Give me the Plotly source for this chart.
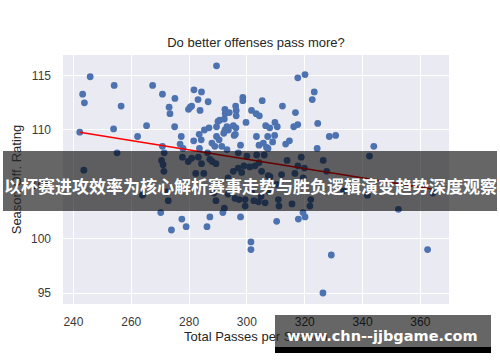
import plotly.graph_objects as go

# Total passes per season (x) and season offensive rating (y)
passes = [
    245.8, 243.2, 243.8, 242.2, 254.1, 256.5, 253.9, 262.2, 265.3, 267.4,
    270.8, 273.1, 273.4, 275.0, 275.1, 277.3, 276.9, 277.9, 270.8, 279.8,
    280.4, 280.9, 281.7, 283.1, 284.3, 283.8, 286.6, 281.6, 283.5, 284.2,
    285.3, 286.9, 283.6, 287.9, 288.9, 291.3, 293.1, 289.5, 290.0, 290.6,
    292.4, 292.5, 293.9, 292.2, 293.1, 292.4, 292.0, 293.6, 289.5, 296.1,
    296.3, 296.3, 295.3, 296.2, 295.6, 296.0, 297.8, 298.6, 298.6, 299.7,
    301.6, 303.2, 304.3, 305.3, 303.3, 304.2, 305.7, 306.8, 307.3, 306.5,
    307.9, 307.2, 308.9, 309.6, 309.7, 310.5, 312.3, 313.4, 314.7, 316.8,
    316.2, 317.6, 317.6, 320.1, 322.6, 323.3, 324.5, 324.3, 328.5, 330.7,
    343.9, 289.5, 290.4,
    255.1, 243.6, 263.9, 270.5, 271.0, 271.3, 271.4, 272.2, 272.8, 277.7,
    279.7, 280.9, 283.2, 284.3, 286.4, 287.2, 288.0, 289.3, 297.0, 300.0,
    303.4, 306.0, 304.2, 297.0, 298.2, 299.0, 301.0, 302.8, 305.1, 295.3,
    293.5, 307.4, 308.0, 312.0, 313.9, 318.8, 317.6, 316.6, 319.9, 319.5,
    326.4, 327.6, 333.4, 310.3, 310.9, 311.1, 315.6, 322.1, 321.8, 307.7,
    306.3, 304.0, 302.4, 304.9, 299.4, 299.4, 295.9, 297.3, 292.2, 289.3,
    288.6, 293.5, 285.1, 282.3, 342.4, 341.7, 364.3, 301.6,
    270.2, 291.7, 287.2, 277.5, 273.9, 279.0, 286.2, 297.8, 310.3, 317.8,
    320.1, 319.4, 301.4, 301.4, 329.2, 326.3, 352.4, 362.5,
]
rating = [
    114.9, 113.3, 112.5, 109.8, 114.1, 112.2, 110.1, 109.4, 110.4, 114.1,
    113.3, 112.1, 111.5, 110.3, 112.9, 109.4, 108.7, 108.3, 108.5, 111.9,
    112.1, 112.2, 113.7, 112.8, 113.5, 111.8, 112.6, 109.0, 109.6, 109.1,
    110.0, 110.2, 108.3, 108.8, 108.5, 108.5, 108.2, 110.3, 110.8, 110.9,
    111.9, 111.5, 111.6, 111.0, 110.3, 110.0, 109.7, 110.0, 115.9, 112.2,
    111.8, 111.3, 110.4, 110.2, 109.5, 109.6, 108.6, 113.0, 112.7, 110.7,
    111.8, 111.5, 111.3, 112.7, 109.4, 108.6, 108.8, 108.4, 108.3, 110.4,
    110.2, 109.4, 108.9, 109.5, 110.7, 110.3, 112.2, 108.7, 109.0, 111.6,
    110.3, 110.5, 114.8, 115.1, 112.8, 113.5, 110.6, 108.3, 109.4, 109.5,
    108.5, 109.4, 109.1,
    107.9, 106.3, 104.0, 107.2, 106.8, 106.2, 107.9, 104.3, 103.5, 107.5,
    107.1, 107.4, 107.5, 106.9, 107.9, 107.3, 107.1, 106.9, 107.9, 107.6,
    107.7, 107.7, 107.0, 106.5, 106.1, 106.7, 106.6, 106.7, 106.2, 106.2,
    105.6, 105.8, 105.7, 105.9, 107.2, 107.5, 106.7, 106.0, 106.5, 105.6,
    107.2, 106.2, 104.4, 105.0, 103.6, 103.0, 103.2, 103.6, 103.0, 104.3,
    103.3, 103.4, 103.5, 103.9, 103.6, 103.0, 103.7, 103.6, 102.8, 103.5,
    104.2, 104.1, 106.0, 106.0, 107.6, 104.0, 104.2, 104.3,
    102.4, 102.4, 102.0, 101.8, 100.8, 101.1, 101.1, 102.0, 101.6, 101.8,
    102.0, 102.4, 99.7, 99.0, 98.5, 95.0, 102.7, 99.0,
]

# regression line end points
fit_x = [242.2, 364.3]
fit_y = [109.8, 104.55]

x_ticks = [240, 260, 280, 300, 320, 340, 360]
y_ticks = [95, 100, 105, 110, 115]

title_text = "Do better offenses pass more?"
x_title = "Total Passes per Season"
y_title = "Season Off. Rating"
banner_text = "以杯赛进攻效率为核心解析赛事走势与胜负逻辑演变趋势深度观察"
watermark_text = "www.chn--jjbgame.com"

W, H = 500, 362
L, R, T, B = 63, 51, 55, 58
pw, ph = W - L - R, H - T - B


def px_x(p):
    return (p - L) / pw


def px_y(p):
    return (H - B - p) / ph


fig = go.Figure()
fig.add_trace(go.Scatter(
    x=passes, y=rating, mode="markers",
    marker=dict(color="#4C72B0", size=6.8, line=dict(width=0)),
    showlegend=False, hoverinfo="skip"))
fig.add_trace(go.Scatter(
    x=fit_x, y=fit_y, mode="lines",
    line=dict(color="#FF0000", width=1.6),
    showlegend=False, hoverinfo="skip"))

font_family = "Liberation Sans, Arial, sans-serif"

fig.update_layout(
    width=W, height=H,
    margin=dict(l=L, r=R, t=T, b=B, pad=0, autoexpand=False),
    paper_bgcolor="white",
    plot_bgcolor="#EAEAF2",
    font=dict(family=font_family, color="#262626", size=12),
    title=dict(text=title_text, x=(L + pw / 2) / W, xanchor="center",
               y=1 - 42 / H, yanchor="middle", yref="container",
               font=dict(size=13, color="#262626", family=font_family)),
    xaxis=dict(range=[236.4, 369.9], tickvals=x_ticks, automargin=False,
               showgrid=True, gridcolor="white", gridwidth=1.3,
               zeroline=False, showline=False, ticks="",
               ticklabelstandoff=9,
               tickfont=dict(size=12, color="#3a3a3a"),
               title=dict(text=x_title, standoff=3,
                          font=dict(size=13, color="#262626"))),
    yaxis=dict(range=[93.99, 116.9], tickvals=y_ticks, automargin=False,
               showgrid=True, gridcolor="white", gridwidth=1.3,
               zeroline=False, showline=False, ticks="",
               ticklabelstandoff=11,
               tickfont=dict(size=12, color="#3a3a3a"),
               title=dict(text=y_title, standoff=6,
                          font=dict(size=13, color="#262626"))),
)

# banner overlay
fig.add_shape(type="rect", xref="paper", yref="paper",
              x0=px_x(3), x1=px_x(497), y0=px_y(211), y1=px_y(151),
              fillcolor="rgba(0,0,0,0.6)", line=dict(width=0), layer="above")
fig.add_annotation(text=banner_text, xref="paper", yref="paper",
                   x=px_x(250), y=px_y(185), xanchor="center", yanchor="middle",
                   showarrow=False,
                   font=dict(family="Noto Sans CJK SC", size=17, color="white", weight="bold"))

# watermark box
fig.add_shape(type="rect", xref="paper", yref="paper",
              x0=px_x(275), x1=px_x(491), y0=px_y(347), y1=px_y(315),
              fillcolor="rgba(0,0,0,0.6)", line=dict(width=0), layer="above")
fig.add_shape(type="rect", xref="paper", yref="paper",
              x0=px_x(275), x1=px_x(491), y0=px_y(353), y1=px_y(347),
              fillcolor="black", line=dict(width=0), layer="above")
fig.add_annotation(text=watermark_text, xref="paper", yref="paper",
                   x=px_x(382), y=px_y(336), xanchor="center", yanchor="middle",
                   showarrow=False,
                   font=dict(family="DejaVu Sans", size=14.5, color="white", weight="bold"))

fig.write_html("out.html", config={"displayModeBar": False},
               post_script="document.body.style.margin='0px';document.body.style.padding='0px';")
